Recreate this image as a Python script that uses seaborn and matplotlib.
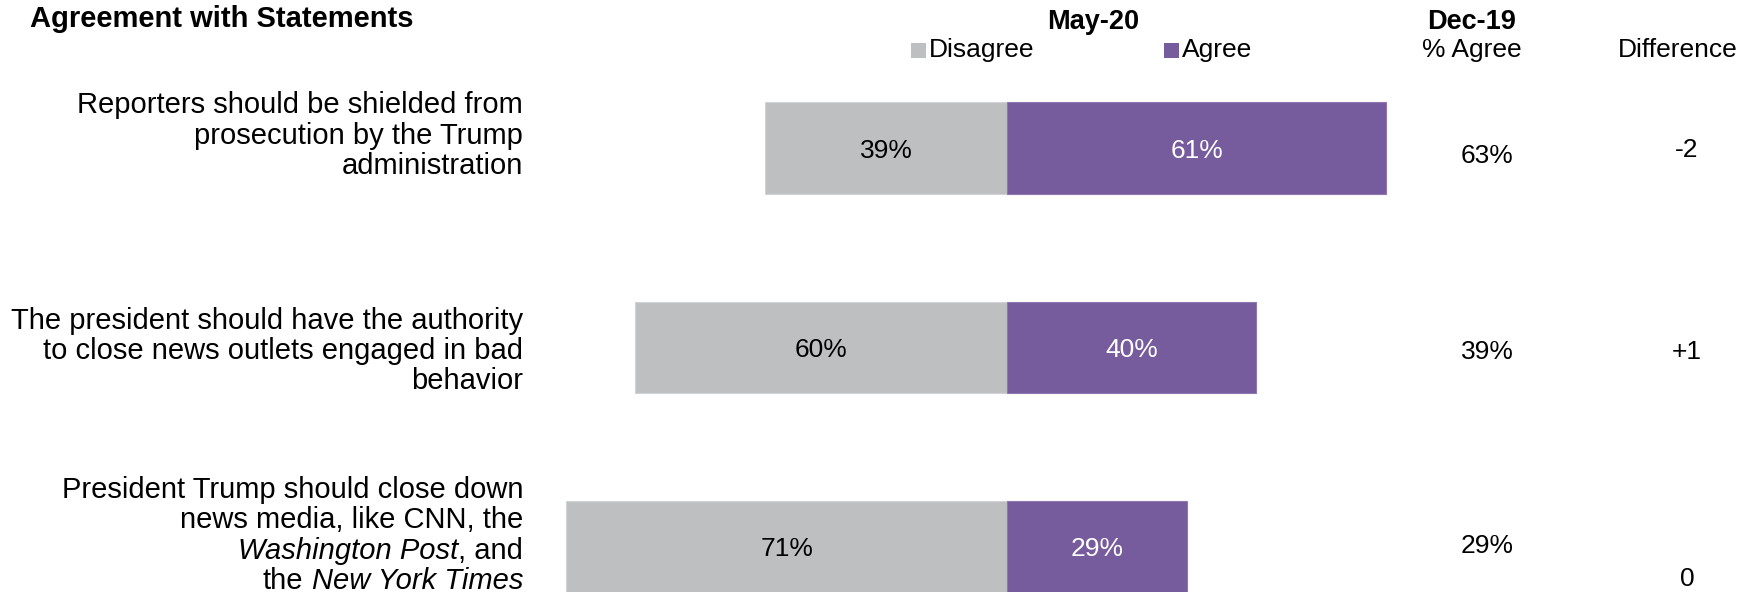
import matplotlib
matplotlib.use("Agg")
import matplotlib.pyplot as plt
import matplotlib.transforms as mtransforms
from matplotlib.patches import Rectangle
import pandas as pd
import seaborn as sns

# ---- data -------------------------------------------------------------
statements = [
    "Reporters shielded",
    "President authority to close outlets",
    "Trump should close news media",
]
disagree_may20 = [39, 60, 71]
agree_may20 = [61, 40, 29]
agree_dec19 = [63, 39, 29]

# wrapped category labels: each line is a list of (text, style) pieces
label_lines = [
    [[("Reporters should be shielded from", "normal")],
     [("prosecution by the Trump", "normal")],
     [("administration", "normal")]],
    [[("The president should have the authority", "normal")],
     [("to close news outlets engaged in bad", "normal")],
     [("behavior", "normal")]],
    [[("President Trump should close down", "normal")],
     [("news media, like CNN, the", "normal")],
     [("Washington Post", "italic"), (", and", "normal")],
     [("the", "normal"), (" ", "normal"), ("New York Times", "italic")]],
]

GRAY = "#BEBFC1"
PURPLE = "#775C9D"
W, H = 1758, 592
FS = 19          # body text size
FS_LABEL = 21    # category label size

sns.set_theme(style="white")
plt.rcParams["font.family"] = ["Liberation Sans", "DejaVu Sans"]
plt.rcParams["text.color"] = "black"

fig = plt.figure(figsize=(W / 100, H / 100), dpi=100)
fig.patch.set_facecolor("white")
ax = fig.add_axes([0, 0, 1, 1])

df = pd.DataFrame({
    "statement": statements,
    "Disagree": [-v for v in disagree_may20],
    "Agree": agree_may20,
})

sns.barplot(data=df, y="statement", x="Disagree", orient="h", color=GRAY,
            saturation=1, width=0.46, ax=ax, edgecolor="#D2D3D5", linewidth=0.8)
sns.barplot(data=df, y="statement", x="Agree", orient="h", color=PURPLE,
            saturation=1, width=0.46, ax=ax, edgecolor="#8F78B0", linewidth=0.8)

ax.set_xlim(-162.2, 120.9)
ax.set_ylim(2.226, -0.742)
ax.axis("off")

# segment value labels (nudged slightly down so the digits sit centred)
lab_tr = mtransforms.offset_copy(ax.transData, fig=fig, x=0, y=-2.5, units="dots")
for i, (d, a) in enumerate(zip(disagree_may20, agree_may20)):
    ax.text(-d / 2, i, f"{d}%", ha="center", va="center", fontsize=FS,
            color="black", transform=lab_tr)
    ax.text(a / 2, i, f"{a}%", ha="center", va="center", fontsize=FS,
            color="white", transform=lab_tr)

# pixel coordinates measured from the top-left corner
px = mtransforms.Affine2D().scale(1, -1).translate(0, H)
renderer = fig.canvas.get_renderer()

fig.text(30, 27, "Agreement with Statements", transform=px, ha="left",
         va="baseline", fontsize=FS_LABEL, fontweight="bold")

# column headers
fig.text(1093, 29, "May-20", transform=px, ha="center", va="baseline",
         fontsize=19.5, fontweight="bold")
fig.text(1472, 29, "Dec-19", transform=px, ha="center", va="baseline",
         fontsize=19.5, fontweight="bold")
fig.text(1472, 57, "% Agree", transform=px, ha="center", va="baseline", fontsize=FS)
fig.text(1678, 57, "Difference", transform=px, ha="center", va="baseline", fontsize=FS)

# legend
for x0, name, col in [(911, "Disagree", GRAY), (1164, "Agree", PURPLE)]:
    fig.patches.append(Rectangle((x0, H - 58), 15, 15, transform=None,
                                 facecolor=col, edgecolor="none"))
    fig.text(x0 + 18, 57, name, transform=px, ha="left", va="baseline", fontsize=FS)

# category labels, right-aligned, drawn line by line
baselines = [
    [113, 143.5, 174],
    [329, 359, 389],
    [498, 528.5, 559, 589],
]
x_right = 523


def text_width(s, **kw):
    t = fig.text(0, 0, s, **kw)
    w = t.get_window_extent(renderer).width
    t.remove()
    return w


space_w = text_width("x x", fontsize=FS_LABEL) - text_width("xx", fontsize=FS_LABEL)

for lines, bases in zip(label_lines, baselines):
    for pieces, yb in zip(lines, bases):
        x = x_right
        for txt, style in reversed(pieces):
            if txt == " ":
                x -= space_w
                continue
            t = fig.text(x, yb, txt, transform=px, ha="right", va="baseline",
                         fontsize=FS_LABEL, fontstyle=style)
            x -= t.get_window_extent(renderer).width

# December column and difference column
dec_y = [156, 352, 546]
diff_y = [150, 352, 579]
for i, (a, prev) in enumerate(zip(agree_may20, agree_dec19)):
    diff = a - prev
    diff_txt = f"{diff:+d}" if diff != 0 else "0"
    fig.text(1487, dec_y[i], f"{prev}%", transform=px, ha="center", va="center", fontsize=FS)
    fig.text(1687, diff_y[i], diff_txt, transform=px, ha="center", va="center", fontsize=FS)

fig.savefig("out.png", dpi=100, facecolor="white")
